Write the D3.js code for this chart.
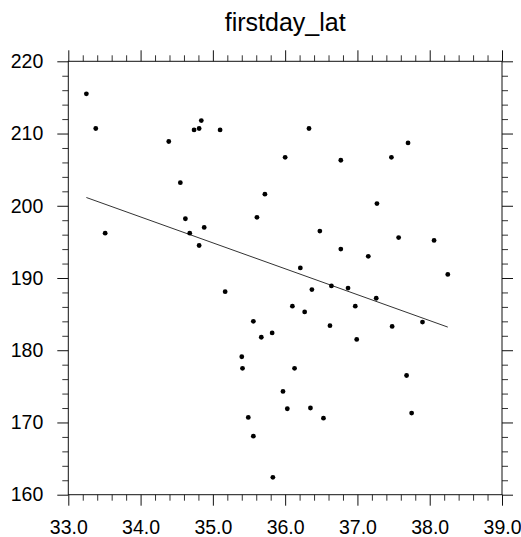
<!DOCTYPE html>
<html>
<head>
<meta charset="utf-8">
<script src="https://cdn.jsdelivr.net/npm/d3@7"></script>
<style>
  html, body { margin: 0; padding: 0; background: #fff; }
  svg { display: block; font-family: "Liberation Sans", Arial, Helvetica, sans-serif; }
</style>
</head>
<body>
<svg id="chart" width="521" height="537"></svg>
<script>
// Latitude of each station
const lat = [
  33.25, 33.38, 33.51, 34.39, 34.55, 34.62, 34.68, 34.81, 34.88, 34.74,
  34.81, 34.84, 35.10, 35.17, 35.61, 36.33, 36.00, 36.77, 37.47, 37.70,
  35.72, 37.27, 36.48, 37.57, 38.06, 36.77, 37.15, 38.25, 36.21, 36.37,
  36.64, 36.87, 37.26, 36.10, 36.27, 36.97, 36.62, 37.48, 37.90, 36.99,
  35.82, 35.67, 36.13, 37.68, 35.97, 36.03, 36.35, 36.53, 37.75, 35.83,
  35.56, 35.40, 35.41, 35.49, 35.56
];
// First day (day of year) at each station
const firstday = [
  215.5, 210.7, 196.2, 208.9, 203.2, 198.2, 196.2, 194.5, 197.0, 210.5,
  210.7, 211.8, 210.5, 188.1, 198.4, 210.7, 206.7, 206.3, 206.7, 208.7,
  201.6, 200.3, 196.5, 195.6, 195.2, 194.0, 193.0, 190.5, 191.4, 188.4,
  188.9, 188.6, 187.2, 186.1, 185.3, 186.1, 183.4, 183.3, 183.9, 181.5,
  182.4, 181.8, 177.5, 176.5, 174.3, 171.9, 172.0, 170.6, 171.3, 162.4,
  184.0, 179.1, 177.5, 170.7, 168.1
];

const chartTitle = "firstday_lat";
const xTicks = [33, 34, 35, 36, 37, 38, 39];
const yTicks = [160, 170, 180, 190, 200, 210, 220];
const xDomain = [33, 39];
const yDomain = [160, 220];

const svg = d3.select("#chart");
const plotL = 68.3, plotR = 502, plotT = 61.3, plotB = 494.7;

const x = d3.scaleLinear().domain(xDomain).range([plotL, plotR]);
const y = d3.scaleLinear().domain(yDomain).range([plotB, plotT]);

// Minor ticks: 0.2 along x, 2 along y
const xMinor = d3.range(xDomain[0], xDomain[1] + 1e-9, 0.2).filter(v => Math.abs(v - Math.round(v)) > 1e-6);
const yMinor = d3.range(yDomain[0], yDomain[1] + 1e-9, 2).filter(v => v % 10 !== 0);

const majorLen = 11, minorLen = 6;
const fmtX = d3.format(".1f");

function styleAxis(g) {
  g.select(".domain").remove();
  g.selectAll(".tick line").attr("stroke", "#111").attr("stroke-width", 1);
  g.selectAll(".tick text")
    .attr("fill", "#000")
    .style("font-size", "19.5px")
    .style("font-family", "'Liberation Sans', Arial, Helvetica, sans-serif");
}

function drawAxis(axisFn, scale, ticks, minor, transform, pad, fmt) {
  const g1 = svg.append("g").attr("transform", transform)
    .call(axisFn(scale).tickValues(ticks).tickSize(majorLen).tickPadding(pad)
      .tickFormat(fmt || (() => "")));
  styleAxis(g1);
  const g2 = svg.append("g").attr("transform", transform)
    .call(axisFn(scale).tickValues(minor).tickSize(minorLen).tickFormat(() => ""));
  styleAxis(g2);
  g2.selectAll(".tick line").attr("stroke", "#333");
  return g1;
}

drawAxis(d3.axisBottom, x, xTicks, xMinor, `translate(0,${plotB})`, 14.5, fmtX);
drawAxis(d3.axisTop, x, xTicks, xMinor, `translate(0,${plotT})`, 0);
drawAxis(d3.axisLeft, y, yTicks, yMinor, `translate(${plotL},0)`, 14, d3.format("d"));
drawAxis(d3.axisRight, y, yTicks, yMinor, `translate(${plotR},0)`, 0);

// Plot frame
svg.append("rect")
  .attr("x", plotL).attr("y", plotT)
  .attr("width", plotR - plotL).attr("height", plotB - plotT)
  .attr("fill", "none").attr("stroke", "#111").attr("stroke-width", 1);

// Least-squares regression line over the data range
const mx = d3.mean(lat), my = d3.mean(firstday);
let sxy = 0, sxx = 0;
lat.forEach((v, i) => { sxy += (v - mx) * (firstday[i] - my); sxx += (v - mx) * (v - mx); });
const slope = sxy / sxx, intercept = my - slope * mx;
const [xmin, xmax] = d3.extent(lat);
svg.append("line")
  .attr("x1", x(xmin)).attr("y1", y(intercept + slope * xmin))
  .attr("x2", x(xmax)).attr("y2", y(intercept + slope * xmax))
  .attr("stroke", "#333").attr("stroke-width", 1);

// Station points
svg.append("g").selectAll("circle")
  .data(lat.map((v, i) => [v, firstday[i]]))
  .join("circle")
  .attr("cx", d => x(d[0]))
  .attr("cy", d => y(d[1]))
  .attr("r", 2.4)
  .attr("fill", "#000");

// Title
svg.append("text")
  .attr("x", (plotL + plotR) / 2)
  .attr("y", 30.5)
  .attr("text-anchor", "middle")
  .style("font-size", "25px")
  .attr("fill", "#000")
  .text(chartTitle);
</script>
</body>
</html>
